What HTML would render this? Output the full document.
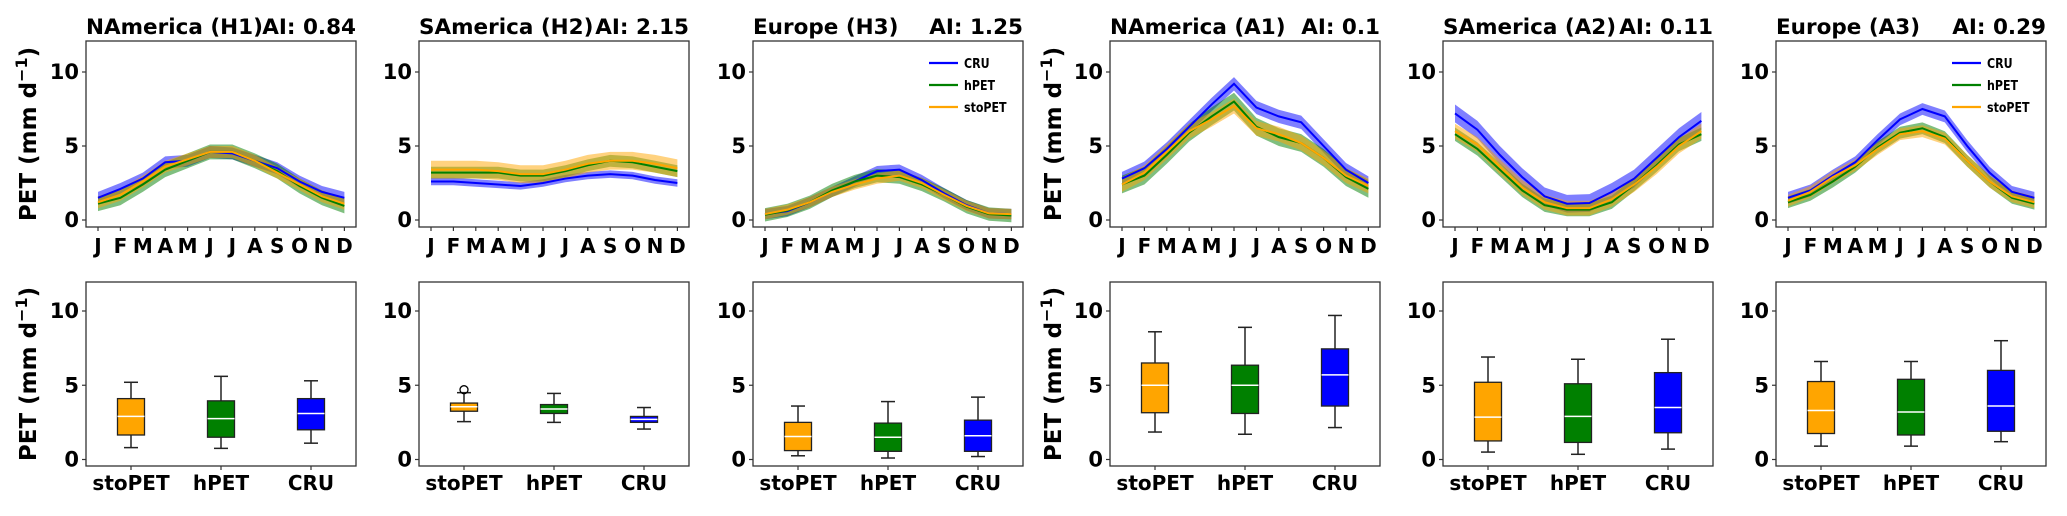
<!DOCTYPE html>
<html><head><meta charset="utf-8"><style>
html,body{margin:0;padding:0;background:#fff;}
svg text{font-family:"DejaVu Sans","Liberation Sans",sans-serif;font-weight:bold;fill:#000;}
</style></head><body>
<svg id="fig" width="2067" height="511" viewBox="0 0 2067 511" xmlns="http://www.w3.org/2000/svg"></svg>
<script>
const months = ["J","F","M","A","M","J","J","A","S","O","N","D"];
const titlesL = ["NAmerica (H1)","SAmerica (H2)","Europe (H3)","NAmerica (A1)","SAmerica (A2)","Europe (A3)"];
const titlesR = ["AI: 0.84","AI: 2.15","AI: 1.25","AI: 0.1","AI: 0.11","AI: 0.29"];
const yTicks = [0,5,10];
const boxCats = ["stoPET","hPET","CRU"];
// monthly mean series per panel
const cruSeries = [
 [1.5,2.1,2.8,3.9,4.0,4.6,4.5,4.0,3.5,2.6,1.9,1.5],
 [2.6,2.6,2.5,2.4,2.3,2.5,2.8,3.0,3.1,3.0,2.7,2.5],
 [0.4,0.6,1.2,1.9,2.6,3.3,3.4,2.7,1.8,1.0,0.45,0.4],
 [2.8,3.5,4.8,6.3,7.8,9.2,7.6,7.0,6.6,5.0,3.4,2.5],
 [7.2,6.1,4.4,2.9,1.6,1.1,1.15,1.9,2.8,4.2,5.6,6.7],
 [1.5,2.0,3.0,3.9,5.4,6.8,7.5,7.0,5.0,3.2,1.9,1.5]];
const hpetSeries = [
 [1.1,1.5,2.4,3.4,4.0,4.6,4.6,4.0,3.3,2.3,1.5,0.95],
 [3.2,3.2,3.2,3.2,3.0,3.0,3.3,3.7,4.0,3.9,3.6,3.3],
 [0.35,0.65,1.2,2.0,2.6,3.0,2.9,2.4,1.7,0.9,0.4,0.3],
 [2.4,3.0,4.4,5.9,7.0,8.0,6.3,5.6,5.2,4.2,2.9,2.1],
 [5.8,4.8,3.4,2.0,1.0,0.7,0.7,1.2,2.4,3.7,5.1,5.8],
 [1.2,1.7,2.6,3.6,4.9,5.9,6.2,5.6,4.0,2.6,1.5,1.1]];
const stoSeries = [
 [1.2,1.7,2.6,3.6,4.1,4.6,4.6,4.0,3.2,2.4,1.6,1.1],
 [3.4,3.4,3.4,3.3,3.1,3.1,3.4,3.8,4.0,4.0,3.8,3.5],
 [0.4,0.7,1.2,1.9,2.4,2.8,3.0,2.5,1.7,0.95,0.45,0.4],
 [2.4,3.2,4.6,6.0,6.8,7.7,6.2,5.8,5.2,4.2,3.0,2.3],
 [6.0,5.1,3.6,2.2,1.2,0.8,0.8,1.4,2.4,3.6,5.0,6.0],
 [1.3,1.9,2.9,3.7,4.8,5.8,6.0,5.5,4.0,2.6,1.6,1.2]];
// band half-widths per panel
const cruSpread = [0.4,0.25,0.35,0.45,0.6,0.4];
const hpetSpread = [0.5,0.4,0.45,0.6,0.45,0.4];
const stoSpread = [0.4,0.6,0.35,0.5,0.5,0.4];
// box stats: [median,q1,q3,whiskerLo,whiskerHi] for stoPET,hPET,CRU
const boxStats = [
 [[2.9,1.65,4.1,0.8,5.2],[2.75,1.5,3.95,0.75,5.6],[3.1,2.0,4.1,1.1,5.3]],
 [[3.55,3.25,3.8,2.55,4.5],[3.4,3.1,3.7,2.5,4.45],[2.7,2.5,2.9,2.05,3.5]],
 [[1.55,0.6,2.5,0.25,3.6],[1.5,0.55,2.45,0.1,3.9],[1.6,0.55,2.65,0.2,4.2]],
 [[5.0,3.15,6.5,1.85,8.6],[5.0,3.1,6.35,1.7,8.9],[5.7,3.6,7.45,2.15,9.7]],
 [[2.85,1.25,5.2,0.5,6.9],[2.9,1.15,5.1,0.35,6.75],[3.5,1.8,5.85,0.7,8.1]],
 [[3.3,1.75,5.25,0.9,6.6],[3.2,1.65,5.4,0.9,6.6],[3.6,1.9,6.0,1.2,8.0]]];
const outliers = [[],[[0,4.7]],[],[],[],[]];

const NS="http://www.w3.org/2000/svg";
const svg=document.getElementById('fig');
const panelLeft=[86,419,753,1110,1443,1776], PW=270;
const colors={cru:"#0000ff",hpet:"#008000",sto:"#ffa500"};
function el(tag,attrs,parent){const e=document.createElementNS(NS,tag);for(const k in attrs)e.setAttribute(k,attrs[k]);(parent||svg).appendChild(e);return e;}
function txt(x,y,s,anchor,size,cond,parent){
  const t=el('text',{x:0,y:0,'text-anchor':anchor,'font-size':size},parent);
  let tr=`translate(${x},${y})`; if(cond)tr+=' scale(0.85,1)';
  t.setAttribute('transform',tr); t.textContent=s; return t;}

function yTop(v){return 220-v*14.8;}
function yBot(v){return 459.5-v*14.85;}

for(let p=0;p<6;p++){
  const L=panelLeft[p];
  const xm=i=>L+12+i*22.4;
  const g=el('g',{});
  
  
  const t1=txt(L,34,titlesL[p],'start',21.5,false,g);
   
  const t2=txt(L+PW,34,titlesR[p],'end',21.5,false,g);
   
  const sets=[[cruSeries[p],cruSpread[p],colors.cru,'cru'],[hpetSeries[p],hpetSpread[p],colors.hpet,'hpet'],[stoSeries[p],stoSpread[p],colors.sto,'sto']];
  sets.forEach(([d,s,c,n])=>{
    let pts=d.map((v,i)=>`${xm(i)},${yTop(v+s)}`);
    pts=pts.concat(d.map((v,i)=>`${xm(i)},${yTop(v-s)}`).reverse());
    const b=el('polygon',{points:pts.join(' '),fill:c,'fill-opacity':0.5},g);
     
  });
  sets.forEach(([d,s,c,n])=>{
    const l=el('polyline',{points:d.map((v,i)=>`${xm(i)},${yTop(v)}`).join(' '),fill:'none',stroke:c,'stroke-width':2},g);
     
  });
  el('rect',{x:L,y:41,width:PW,height:186,fill:'none',stroke:'#333','stroke-width':1.3},g);
  yTicks.forEach(v=>{el('line',{x1:L-4,x2:L,y1:yTop(v),y2:yTop(v),stroke:'#333','stroke-width':1.2},g);
    const tl=txt(L-7,yTop(v)+7,String(v),'end',21,false,g);
     });
  months.forEach((m,i)=>{el('line',{x1:xm(i),x2:xm(i),y1:227,y2:231,stroke:'#333','stroke-width':1.2},g);
    const ml=txt(xm(i),253,m,'middle',20,false,g);
     });
  if(p===2||p===5){
    const lg=el('g',{},g);
     
    [["CRU",colors.cru],[" hPET",colors.hpet],["stoPET",colors.sto]].forEach(([n,c],k)=>{
      const yy=41+22+k*22;
      el('line',{x1:L+176,x2:L+205,y1:yy,y2:yy,stroke:c,'stroke-width':2.2},lg);
      const lt=txt(L+211,yy+5,n,'start',13,true,lg);
       
    });
  }
  const g2=el('g',{});
  
  
  const bc=[colors.sto,colors.hpet,colors.cru];
  boxStats[p].forEach((st,k)=>{
    const cx=L+45+k*90, w=13.5;
    const [med,q1,q3,lo,hi]=st;
    el('line',{x1:cx,x2:cx,y1:yBot(hi),y2:yBot(q3),stroke:'#222','stroke-width':1.5},g2);
    el('line',{x1:cx,x2:cx,y1:yBot(q1),y2:yBot(lo),stroke:'#222','stroke-width':1.5},g2);
    el('line',{x1:cx-7,x2:cx+7,y1:yBot(hi),y2:yBot(hi),stroke:'#222','stroke-width':1.5},g2);
    el('line',{x1:cx-7,x2:cx+7,y1:yBot(lo),y2:yBot(lo),stroke:'#222','stroke-width':1.5},g2);
    const r=el('rect',{x:cx-w,y:yBot(q3),width:2*w,height:yBot(q1)-yBot(q3),fill:bc[k],stroke:'#222','stroke-width':1.3},g2);
     
    el('line',{x1:cx-w,x2:cx+w,y1:yBot(med),y2:yBot(med),stroke:'#fff','stroke-width':1.5},g2);
  });
  outliers[p].forEach(([k,v])=>{
    const o=el('circle',{cx:L+45+k*90,cy:yBot(v),r:4,fill:'none',stroke:'#000','stroke-width':1.3},g2);
     
  });
  el('rect',{x:L,y:282,width:PW,height:184,fill:'none',stroke:'#333','stroke-width':1.3},g2);
  yTicks.forEach(v=>{el('line',{x1:L-4,x2:L,y1:yBot(v),y2:yBot(v),stroke:'#333','stroke-width':1.2},g2);
    const tl=txt(L-7,yBot(v)+7,String(v),'end',21,false,g2);
     });
  boxCats.forEach((c,k)=>{const cx=L+45+k*90;
    el('line',{x1:cx,x2:cx,y1:466,y2:470,stroke:'#333','stroke-width':1.2},g2);
    const cl=txt(cx,490,c,'middle',20,false,g2);
     });
  if(p===0||p===3){
    const cxl=p===0?28:1053;
    [[134,'top'],[374,'bottom']].forEach(([cy,r])=>{
      const yl=el('text',{x:0,y:0,'text-anchor':'middle','font-size':23},svg);
      yl.setAttribute('transform',`translate(${cxl+8},${cy}) rotate(-90)`);
      yl.innerHTML='PET (mm d<tspan dy="-9" font-size="16">−1</tspan><tspan dy="9">)</tspan>';
       
    });
  }
}
</script>
</body></html>
